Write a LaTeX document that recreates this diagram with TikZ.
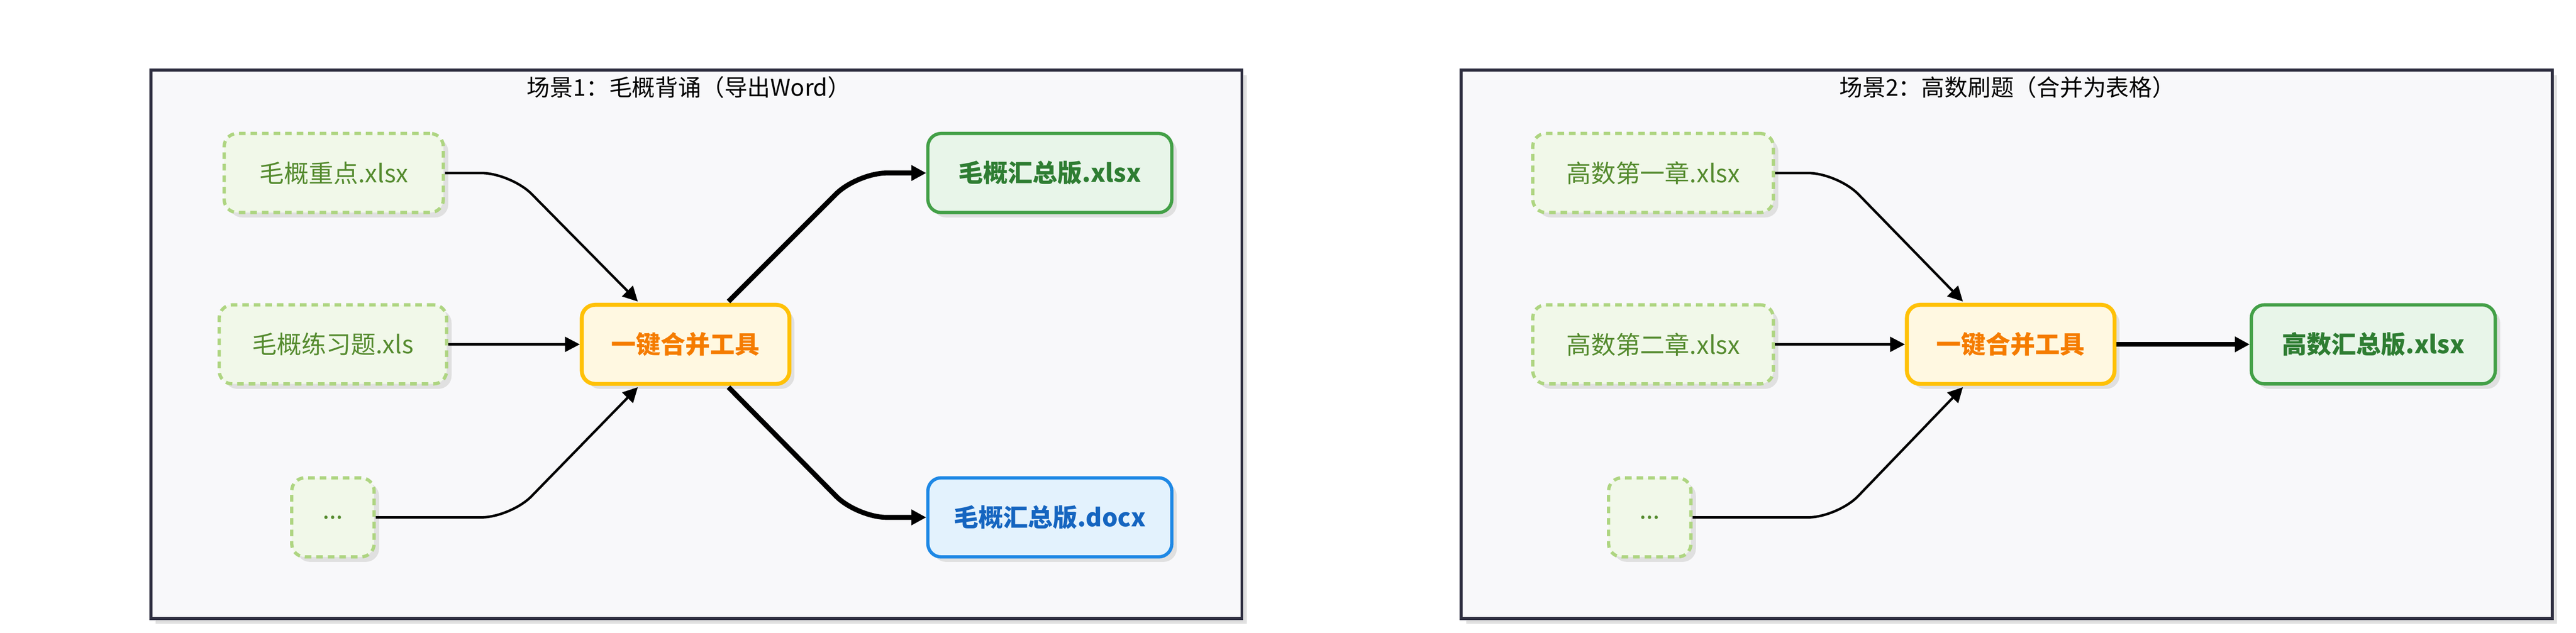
\documentclass[tikz,border=0pt]{standalone}
\usepackage{fontspec}
\setmainfont{Noto Sans CJK SC}
\usetikzlibrary{shadows,arrows.meta}
\definecolor{panelfill}{HTML}{F8F8FA}
\definecolor{panelline}{HTML}{2E2E40}
\definecolor{infill}{HTML}{F1F8E9}
\definecolor{inline}{HTML}{AED581}
\definecolor{intext}{HTML}{558B2F}
\definecolor{toolfill}{HTML}{FFF8E1}
\definecolor{toolline}{HTML}{FFC107}
\definecolor{tooltext}{HTML}{F57C00}
\definecolor{gfill}{HTML}{E8F5E9}
\definecolor{gline}{HTML}{43A047}
\definecolor{gtext}{HTML}{2E7D32}
\definecolor{bfill}{HTML}{E3F2FD}
\definecolor{bline}{HTML}{1E88E5}
\definecolor{btext}{HTML}{1565C0}
\tikzset{
 shad/.style={drop shadow={shadow xshift=3pt,shadow yshift=-3pt,fill=black!12,opacity=1}},
 panel/.style={draw=panelline,fill=panelfill,line width=1.8pt,shad},
 box/.style={rounded corners=8pt,line width=2pt,minimum height=48pt,font=\fontsize{15}{17}\selectfont,inner sep=0pt,shad},
 inbox/.style={box,draw=inline,fill=infill,text=intext,dashed,dash pattern=on 4pt off 3pt},
 toolbox/.style={box,draw=toolline,fill=toolfill,text=tooltext,font=\fontsize{15}{17}\selectfont\bfseries,minimum width=126pt,line width=2.4pt},
 gbox/.style={box,draw=gline,fill=gfill,text=gtext,font=\fontsize{15}{17}\selectfont\bfseries,minimum width=148pt},
 bbox/.style={box,draw=bline,fill=bfill,text=btext,font=\fontsize{15}{17}\selectfont\bfseries,minimum width=148pt},
 conn/.style={-{Triangle[length=9pt,width=9pt]},line width=1.5pt,rounded corners=18pt},
 thickconn/.style={-{Triangle[length=9pt,width=9pt]},line width=3pt,rounded corners=18pt},
 ttl/.style={font=\fontsize{14}{16}\selectfont}
}
\begin{document}
\begin{tikzpicture}[x=1pt,y=-1pt]
\useasboundingbox (0,0) rectangle (1563,384);
% panel 1
\node[panel,minimum width=662pt,minimum height=333pt,inner sep=0pt] (p1) at (422.5,209) {};
\node[ttl] (t1) at (418,53) {场景1：毛概背诵（导出Word）};
\node[inbox,minimum width=133pt] (a1) at (202.5,105) {毛概重点.xlsx};
\node[inbox,minimum width=138pt] (a2) at (202,209) {毛概练习题.xls};
\node[inbox,minimum width=50pt] (a3) at (202,314) {...};
\node[toolbox] (c1) at (416,209) {一键合并工具};
\node[gbox] (o1) at (637,105) {毛概汇总版.xlsx};
\node[bbox] (o2) at (637,314) {毛概汇总版.docx};
\coordinate (c1tl) at (387,183);
\coordinate (c1bl) at (387,235);
\coordinate (c1tr) at (442,183);
\coordinate (c1br) at (442,235);
\draw[conn] (a1.east) -- (310,105) -- (c1tl);
\draw[conn] (a2.east) -- (c1.west);
\draw[conn] (a3.east) -- (310,314) -- (c1bl);
\draw[thickconn] (c1tr) -- (520,105) -- (o1.west);
\draw[thickconn] (c1br) -- (520,314) -- (o2.west);
% panel 2
\node[panel,minimum width=662pt,minimum height=333pt,inner sep=0pt] (p2) at (1217.5,209) {};
\node[ttl] (t2) at (1218,53) {场景2：高数刷题（合并为表格）};
\node[inbox,minimum width=146pt] (b1) at (1003,105) {高数第一章.xlsx};
\node[inbox,minimum width=146pt] (b2) at (1003,209) {高数第二章.xlsx};
\node[inbox,minimum width=50pt] (b3) at (1001,314) {...};
\node[toolbox] (c2) at (1220,209) {一键合并工具};
\node[gbox] (o3) at (1440,209) {高数汇总版.xlsx};
\coordinate (c2tl) at (1191,183);
\coordinate (c2bl) at (1191,235);
\draw[conn] (b1.east) -- (1115,105) -- (c2tl);
\draw[conn] (b2.east) -- (c2.west);
\draw[conn] (b3.east) -- (1115,314) -- (c2bl);
\draw[thickconn] (c2.east) -- (o3.west);
\end{tikzpicture}
\end{document}
